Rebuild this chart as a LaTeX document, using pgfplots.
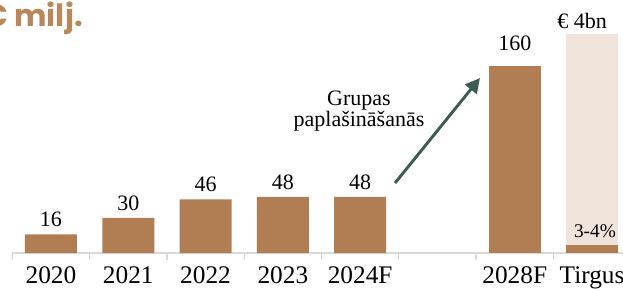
\documentclass[border=0pt]{standalone}
\usepackage{fontspec}
\setmainfont{Liberation Serif}
\newfontfamily\poppins{Poppins}
\usepackage{pgfplots}
\pgfplotsset{compat=1.18}
\usetikzlibrary{arrows.meta}
\definecolor{brownbar}{HTML}{B17E53}
\definecolor{lightbar}{HTML}{F0E4DA}
\definecolor{arrowc}{HTML}{3D5B52}
\definecolor{axgray}{HTML}{D9D9D9}
\definecolor{titlec}{HTML}{B8875C}
\begin{document}
\begin{tikzpicture}
\useasboundingbox (-9.225pt,-26.25pt) rectangle (458pt,189.75pt);
\begin{axis}[at={(0pt,0pt)}, anchor=south west, scale only axis,
  width=463.8pt, height=189.75pt,
  xmin=-0.5, xmax=7.5, ymin=0, ymax=216.6,
  clip=false,
  ybar,
  axis x line*=bottom, axis y line=none,
  ytick=\empty,
  xtick={0,1,2,3,4,6,7},
  xticklabels={2020,2021,2022,2023,2024F,2028F,Tirgus},
  major tick length=0pt,
  minor xtick={-0.5,0.5,1.5,2.5,3.5,4.5,5.5,6.5,7.5},
  minor tick length=5.25pt,
  tick align=outside,
  tick style={axgray, line width=1pt},
  x axis line style={axgray, line width=1.1pt},
  xticklabel style={font=\fontsize{19}{20}\selectfont, anchor=base, yshift=-22.5pt},
  /pgf/number format/assume math mode=true,
  every node near coord/.append style={inner sep=0pt, font=\fontsize{16.5}{18}\selectfont, text=black},
]
\addplot[bar width=39pt, bar shift=0pt, fill=lightbar, draw=none] coordinates {(7,187.5)};
\addplot[bar width=39pt, bar shift=0pt, fill=brownbar, draw=none,
  nodes near coords, every node near coord/.append style={yshift=5.25pt}]
  coordinates {(0,16) (1,30) (2,46) (3,48) (4,48)};
\addplot[bar width=39pt, bar shift=0pt, fill=brownbar, draw=none,
  nodes near coords, every node near coord/.append style={yshift=11.25pt}]
  coordinates {(6,160)};
\addplot[bar width=39pt, bar shift=0pt, fill=brownbar, draw=none] coordinates {(7,7)};
\draw[arrowc, line width=2.2pt, -{Triangle[length=11pt,width=11pt]}] (axis cs:4.451,59.9) -- (axis cs:5.550,149.8);
\node[anchor=base, inner sep=0pt, font=\fontsize{16.5}{18}\selectfont] at (axis cs:3.985,126.7) {Grupas};
\node[anchor=base, inner sep=0pt, font=\fontsize{16.5}{18}\selectfont] at (axis cs:3.985,107.9) {paplašināšanās};
\node[anchor=base, inner sep=0pt, font=\fontsize{16.5}{18}\selectfont] at (axis cs:6.870,192.6) {€ 4bn};
\node[anchor=base, inner sep=0pt, font=\fontsize{14.5}{16}\selectfont] at (axis cs:7.038,13.7) {3-4\%};
\end{axis}
\node[anchor=base west, inner sep=0pt, font=\poppins\bfseries\fontsize{23}{25}\selectfont, text=titlec] at (-21.75pt,169.5pt) {€ milj.};
\end{tikzpicture}
\end{document}
